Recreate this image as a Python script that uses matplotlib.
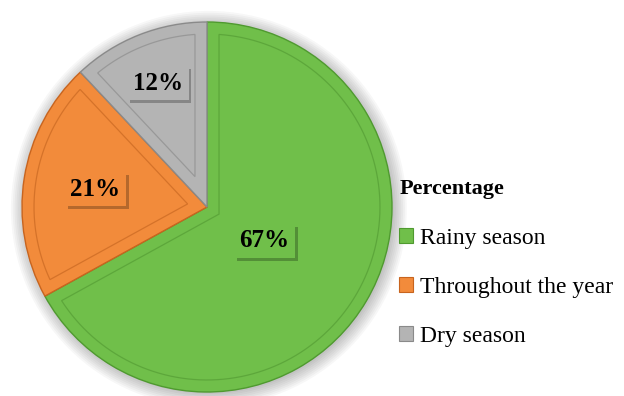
import numpy as np
import matplotlib.pyplot as plt
import matplotlib.patheffects as pe
from matplotlib.patches import Circle, Polygon

labels = ['Rainy season', 'Throughout the year', 'Dry season']
values = [67, 21, 12]
colors = ['#70bf4a', '#f28b3b', '#b4b4b4']
edges = ['#4f9a2f', '#c8641e', '#8a8a8a']
bevel = ['#4a8f2c', '#b85a18', '#7d7d7d']
label_r = [0.36, 0.61, 0.72]

plt.rcParams['font.family'] = ['Liberation Serif', 'DejaVu Serif']

fig = plt.figure(figsize=(6.24, 3.96), dpi=100)
cx, cy, r = 207, 396 - 207, 185
ax = fig.add_axes([(cx - r) / 624, (cy - r) / 396, 2 * r / 624, 2 * r / 396])

# soft shadow behind the pie
for k in range(8):
    ax.add_patch(Circle((0.01, -0.01), 1.0 + 0.01 * k, facecolor='black',
                        alpha=0.03, edgecolor='none', zorder=0, clip_on=False))

wedges, _ = ax.pie(values, colors=colors, startangle=90, counterclock=False,
                   radius=1.0, wedgeprops=dict(linewidth=1.0))
for w, e in zip(wedges, edges):
    w.set_edgecolor(e)

# inner bevel outline for each slice
d = 0.065
for w, b in zip(wedges, bevel):
    a1, a2 = np.deg2rad(w.theta1), np.deg2rad(w.theta2)
    half = (a2 - a1) / 2
    rr = 1.0 - d
    off = np.arcsin(d / rr)
    arc = np.linspace(a1 + off, a2 - off, 120)
    pts = [(rr * np.cos(t), rr * np.sin(t)) for t in arc]
    s = d / np.sin(half)
    mid = a1 + half
    pts.append((s * np.cos(mid), s * np.sin(mid)))
    ax.add_patch(Polygon(pts, closed=True, fill=False, edgecolor=b,
                         linewidth=0.9, alpha=0.5, zorder=3))

for w, v, c, lr in zip(wedges, values, colors, label_r):
    ang = np.deg2rad((w.theta1 + w.theta2) / 2)
    t = ax.text(lr * np.cos(ang), lr * np.sin(ang), f'{v}%', ha='center', va='center',
                fontsize=18, fontweight='bold', color='black', zorder=5,
                bbox=dict(boxstyle='square,pad=0.22', facecolor=c, edgecolor='none'))
    t.get_bbox_patch().set_path_effects(
        [pe.SimplePatchShadow(offset=(2, -2), shadow_rgbFace='black', alpha=0.25), pe.Normal()])

ax.set_xlim(-1.0, 1.0)
ax.set_ylim(-1.0, 1.0)
ax.set_aspect('equal')

handles = [plt.Rectangle((0, 0), 1, 1, facecolor=c, edgecolor=e, linewidth=0.8)
           for c, e in zip(colors, edges)]
leg = fig.legend(handles, labels, title='Percentage', loc='upper left',
                 bbox_to_anchor=(378 / 624, 1 - 158 / 396), frameon=False,
                 fontsize=17, title_fontproperties=dict(weight='bold', size=16),
                 handlelength=0.6, handleheight=0.6, handletextpad=0.3,
                 labelspacing=1.2, alignment='left')

fig.savefig('out.png', dpi=100)
